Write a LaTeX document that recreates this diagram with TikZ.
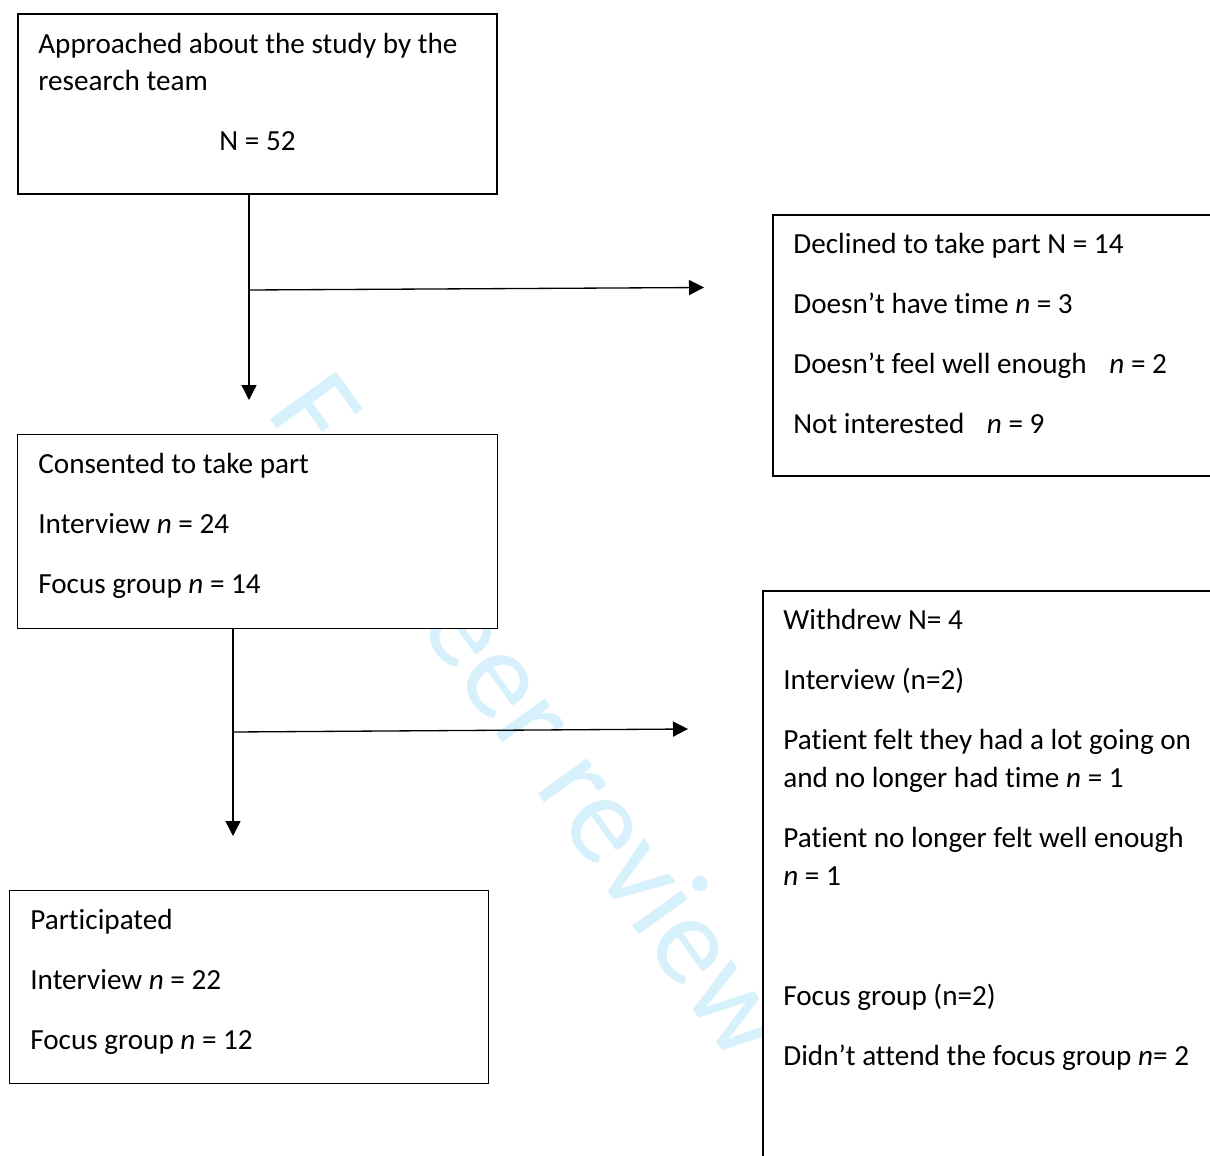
\documentclass[tikz,border=0pt]{standalone}
\usepackage{fontspec}
\setmainfont{Carlito}[Ligatures=NoCommon, Contextuals=NoAlternate]
\usetikzlibrary{arrows.meta,positioning}
\definecolor{wmblue}{RGB}{214,240,252}
\tikzset{
  flowbox/.style={draw, fill=white, line width=#1, inner sep=0pt, anchor=north west},
  flowbox/.default=0.8pt,
  boxtext/.style={anchor=base west, align=left, inner sep=0pt, font=\fontsize{16.6pt}{21.6pt}\selectfont},
  flowline/.style={line width=0.75pt, -{Triangle[length=0.3cm, width=0.3cm]}},
  watermark/.style={anchor=base west, inner sep=0pt, text=wmblue, rotate=-54.4, font=\fontsize{72pt}{72pt}\selectfont}
}
\def\pgap{12.5pt}
\begin{document}
\begin{tikzpicture}
\useasboundingbox (0,0) rectangle (24.2,-23.1);
\clip (0,0) rectangle (24.2,-23.1);
\fill[white] (0,0) rectangle (24.2,-23.1);

% Watermark behind the boxes
\node[watermark] (wm) at (5.3,-8.24) {For peer review};

% Boxes
\node[flowbox=1.2pt, minimum width=9.58cm, minimum height=3.6cm] (approached) at (0.34,-0.26) {};
\node[flowbox=1.1pt, minimum width=10cm, minimum height=5.22cm] (declined) at (15.44,-4.28) {};
\node[flowbox, minimum width=9.6cm, minimum height=3.88cm] (consented) at (0.34,-8.68) {};
\node[flowbox=1.1pt, minimum width=10cm, minimum height=12cm] (withdrew) at (15.24,-11.8) {};
\node[flowbox, minimum width=9.58cm, minimum height=3.86cm] (participated) at (0.18,-17.8) {};

% Texts (base = baseline of the last line)
\node[boxtext] (approachedtxt) at ([shift={(0.42,-1.56)}]approached.north west)
  {Approached about the study by the\\research team};
\node[boxtext, anchor=base] (approachedn) at ([yshift=-2.76cm]approached.north) {N = 52};
\node[boxtext] (declinedtxt) at ([shift={(0.42,-4.38)}]declined.north west)
  {Declined to take part N = 14\\[\pgap]
   Doesn’t have time \textit{n} = 3\\[\pgap]
   Doesn’t feel well enough\hspace{0.55em} \textit{n} = 2\\[\pgap]
   Not interested\hspace{0.55em} \textit{n} = 9};
\node[boxtext] (consentedtxt) at ([shift={(0.42,-3.18)}]consented.north west)
  {Consented to take part\\[\pgap]
   Interview \textit{n} = 24\\[\pgap]
   Focus group \textit{n} = 14};
\node[boxtext] (withdrewtxt) at ([shift={(0.42,-9.5)}]withdrew.north west)
  {Withdrew N= 4\\[\pgap]
   Interview (n=2)\\[\pgap]
   Patient felt they had a lot going on\\
   and no longer had time \textit{n} = 1\\[\pgap]
   Patient no longer felt well enough\\
   \textit{n} = 1\\[46.7pt]
   Focus group (n=2)\\[\pgap]
   Didn’t attend the focus group \textit{n}= 2};
\node[boxtext] (participatedtxt) at ([shift={(0.42,-3.18)}]participated.north west)
  {Participated\\[\pgap]
   Interview \textit{n} = 22\\[\pgap]
   Focus group \textit{n} = 12};

% Connectors
\coordinate (tipA) at (4.98,-8.0);
\coordinate (splitA) at (4.98,-5.8);
\coordinate (tipB) at (14.08,-5.75);
\draw[flowline] (approached.south -| tipA) -- (tipA);
\draw[flowline] (splitA) -- (tipB);
\coordinate (tipC) at (4.66,-16.72);
\coordinate (splitC) at (4.66,-14.64);
\coordinate (tipD) at (13.76,-14.58);
\draw[flowline] (consented.south -| tipC) -- (tipC);
\draw[flowline] (splitC) -- (tipD);
\end{tikzpicture}
\end{document}
